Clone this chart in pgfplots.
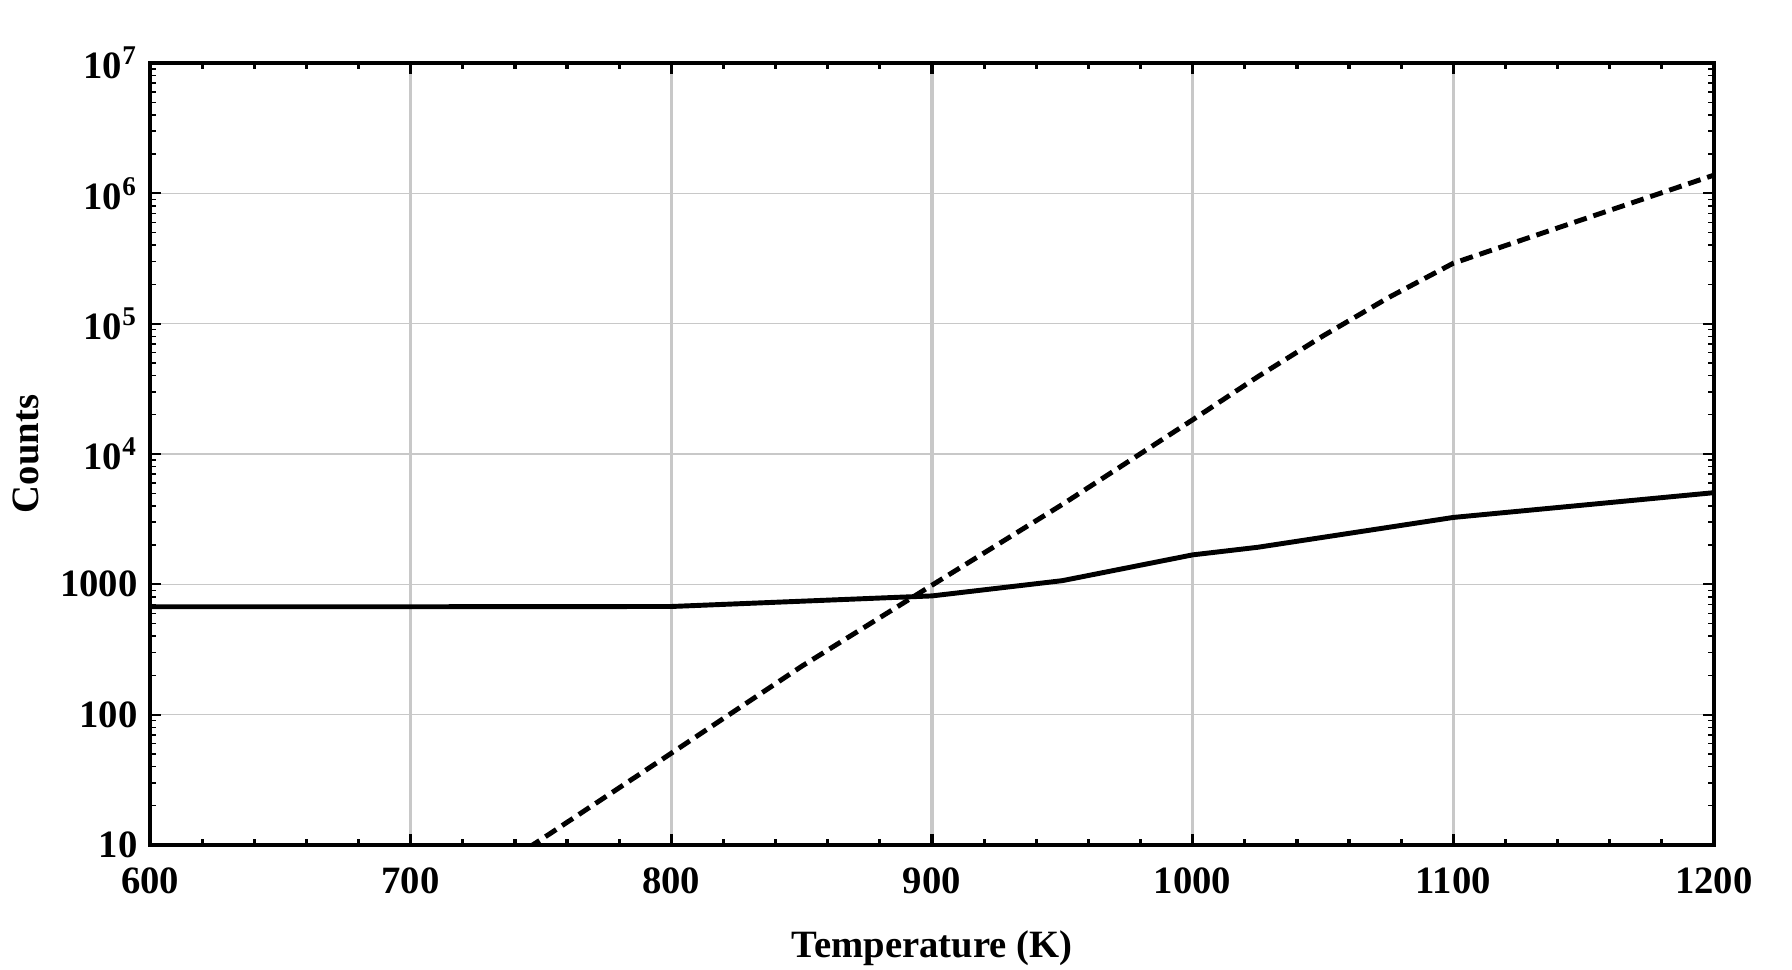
\documentclass[border=0pt]{standalone}
\usepackage{fontspec}
\setmainfont{Liberation Serif}
\usepackage{pgfplots}
\pgfplotsset{compat=1.18}
\definecolor{gridgray}{RGB}{200,200,200}
\newcommand{\lf}{\bfseries\fontsize{11}{13}\selectfont}
\begin{document}
\begin{tikzpicture}
\useasboundingbox (-15mm,-12.5mm) rectangle (164.2mm,84.5mm);
\begin{axis}[
  scale only axis,
  width=156.4mm, height=78.2mm,
  xmin=600, xmax=1200,
  ymode=log, ymin=10, ymax=1e7,
  axis line style={line width=1.2pt},
  tick align=inside,
  xtick={600,700,800,900,1000,1100,1200},
  xticklabels={600,700,800,900,1000,1100,1200},
  minor x tick num=4,
  ytick={10,100,1000,1e4,1e5,1e6,1e7},
  yticklabels={10,100,1000,10\textsuperscript{4},10\textsuperscript{5},10\textsuperscript{6},10\textsuperscript{7}},
  minor ytick={20,30,40,50,60,70,80,90,200,300,400,500,600,700,800,900,2000,3000,4000,5000,6000,7000,8000,9000,2e4,3e4,4e4,5e4,6e4,7e4,8e4,9e4,2e5,3e5,4e5,5e5,6e5,7e5,8e5,9e5,2e6,3e6,4e6,5e6,6e6,7e6,8e6,9e6},
  major tick length=1.1mm,
  minor tick length=0.6mm,
  major x tick style={line width=0.9pt, black},
  minor x tick style={line width=0.9pt, black},
  major y tick style={line width=0.5pt, black},
  minor y tick style={line width=0.4pt, black},
  xmajorgrids, ymajorgrids,
  major x grid style={gridgray, line width=0.9pt},
  major y grid style={gridgray, line width=0.4pt},
  xticklabel style={font=\lf, yshift=-1mm},
  yticklabel style={font=\lf},
  xlabel={Temperature (K)},
  ylabel={Counts},
  every axis x label/.style={at={(axis description cs:0.5,0)}, anchor=base, yshift=-11.3mm, font=\lf},
  every axis y label/.style={at={(axis description cs:0,0.5)}, xshift=-12.4mm, anchor=center, rotate=90, font=\lf},
]
\addplot[black, line width=1.4pt] coordinates {
  (600,673) (700,673) (800,676) (900,815) (950,1067) (1000,1683)
  (1025,1925) (1100,3260) (1200,5050)
};
\addplot[black, line width=1.4pt, dash pattern=on 3.7pt off 2pt] coordinates {
  (700,2.5) (750,11) (800,50.6) (850,235) (900,985) (950,4100)
  (1000,18300) (1025,39200) (1050,80500) (1075,158000) (1100,291000)
  (1200,1.38e6)
};
\end{axis}
\end{tikzpicture}
\end{document}
